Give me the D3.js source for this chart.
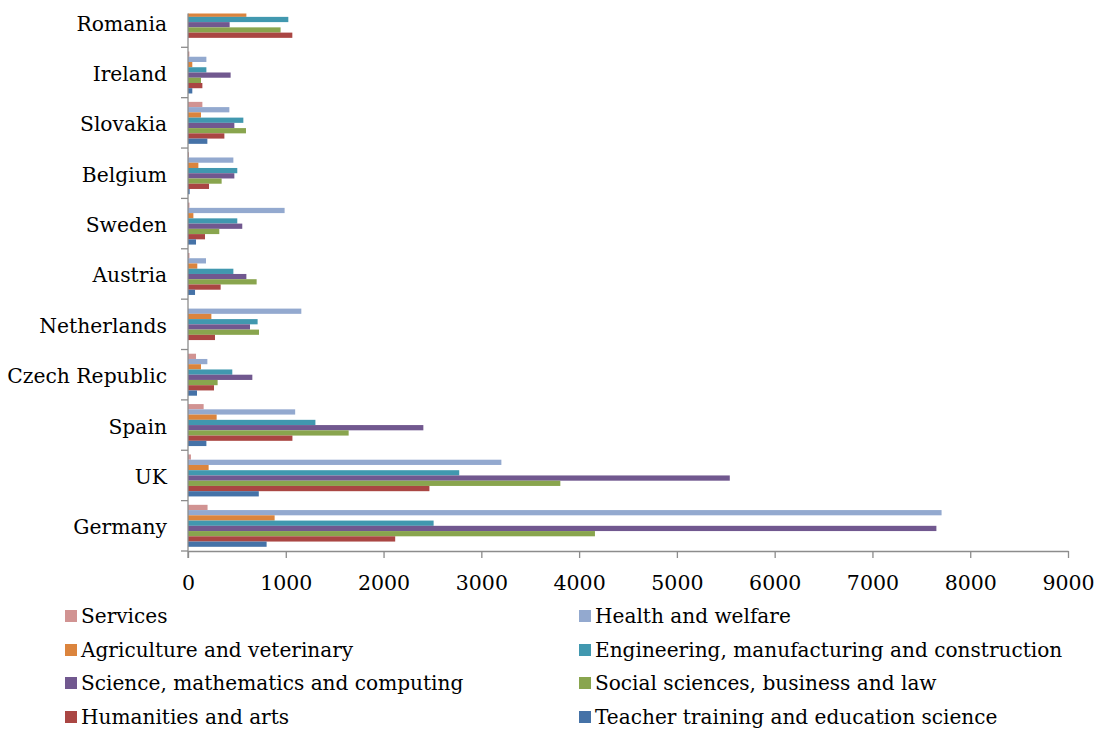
<!DOCTYPE html>
<html><head><meta charset="utf-8">
<script src="https://cdn.jsdelivr.net/npm/d3@7"></script>
<style>
html,body{margin:0;padding:0;background:#fff;}
svg{display:block;font-family:"DejaVu Serif",serif;}
</style></head>
<body>
<svg id="chart" width="1104" height="731"></svg>
<script>
// Categories, top to bottom
const countries = ["Romania","Ireland","Slovakia","Belgium","Sweden","Austria","Netherlands","Czech Republic","Spain","UK","Germany"];
// Series (values per country, same order as countries); null = not visible in source
const services    = [null, 14, 147, 10, 15, 15, 0, 82, 160, 30, 200];
const health      = [null, 188, 423, 464, 988, 184, 1159, 198, 1096, 3205, 7707];
const agriculture = [597, 44, 133, 106, 55, 95, 239, 133, 293, 211, 886];
const engineering = [1026, 188, 566, 504, 504, 464, 712, 453, 1303, 2774, 2512];
const science     = [426, 436, 474, 474, 555, 597, 634, 658, 2407, 5541, 7654];
const social      = [947, 133, 593, 344, 320, 702, 726, 303, 1643, 3808, 4162];
const humanities  = [1067, 147, 372, 215, 174, 334, 276, 266, 1068, 2469, 2119];
const teacher     = [0, 44, 198, 17, 82, 72, 0, 92, 188, 724, 804];
const seriesNames = ["Services","Health and welfare","Agriculture and veterinary","Engineering, manufacturing and construction","Science, mathematics and computing","Social sciences, business and law","Humanities and arts","Teacher training and education science"];
const xTicks = [0,1000,2000,3000,4000,5000,6000,7000,8000,9000];

const seriesValues = [services, health, agriculture, engineering, science, social, humanities, teacher];
const colors = ["#D19392","#93A9CF","#DB843D","#4198AF","#71588F","#89A54E","#AA4643","#4572A7"];

const svg = d3.select("#chart");
const axisColor = "#8c8c8c";
const plotTop = 13.5, plotBottom = 551, plotLeft = 188, plotRight = 1068;
const bandH = 50.37;

const x = d3.scaleLinear().domain([0, 9000]).range([plotLeft, plotRight]);
const y = d3.scaleBand().domain(countries)
  .range([plotBottom - bandH * countries.length, plotBottom]).padding(0);
const yInner = d3.scaleBand().domain(d3.range(seriesNames.length))
  .range([0, y.bandwidth()]).paddingInner(0).paddingOuter(0.8);

svg.append("defs").append("clipPath").attr("id","plotclip")
  .append("rect").attr("x", plotLeft).attr("y", plotTop)
  .attr("width", plotRight - plotLeft + 5).attr("height", plotBottom - plotTop);

const bars = svg.append("g").attr("clip-path","url(#plotclip)");
countries.forEach((c, ci) => {
  seriesValues.forEach((vals, si) => {
    const v = vals[ci];
    if (v === null || v === undefined) return;
    bars.append("rect")
      .attr("x", x(0))
      .attr("y", y(c) + yInner(si))
      .attr("width", Math.max(0, x(v) - x(0)))
      .attr("height", yInner.bandwidth())
      .attr("fill", colors[si]);
  });
});

// X axis
const xAxis = svg.append("g").attr("transform", `translate(0,${plotBottom})`)
  .call(d3.axisBottom(x).tickValues(xTicks).tickSize(7).tickSizeOuter(0).tickFormat(d3.format("d")));
xAxis.select(".domain").attr("stroke", axisColor).attr("stroke-width", 1.3);
xAxis.selectAll(".tick line").attr("stroke", axisColor).attr("stroke-width", 1.3);
xAxis.selectAll(".tick text").attr("fill","#000").attr("font-size", 20.5)
  .attr("font-family","DejaVu Serif, serif").attr("y", 38.5).attr("dy", 0);

// Y axis line and category boundary ticks
svg.append("line").attr("x1", plotLeft).attr("x2", plotLeft)
  .attr("y1", plotTop).attr("y2", plotBottom + 7)
  .attr("stroke", axisColor).attr("stroke-width", 1.3);
const bounds = countries.map(c => y(c) + y.bandwidth()).filter(v => v >= plotTop);
svg.selectAll(".ytick").data(bounds).enter().append("line")
  .attr("x1", plotLeft - 7).attr("x2", plotLeft)
  .attr("y1", d => d).attr("y2", d => d)
  .attr("stroke", axisColor).attr("stroke-width", 1.3);

svg.selectAll(".ylabel").data(countries).enter().append("text")
  .attr("x", 167).attr("y", d => y(d) + y.bandwidth() / 2)
  .attr("dy", "0.42em").attr("text-anchor","end")
  .attr("font-size", 20.3).attr("fill","#000").text(d => d);

// Legend
const legendCols = [65, 579];
const legendRows = [623, 657, 690, 724];
seriesNames.forEach((name, i) => {
  const cx = legendCols[i % 2], by = legendRows[Math.floor(i / 2)];
  svg.append("rect").attr("x", cx).attr("y", by - 13).attr("width", 12).attr("height", 12)
    .attr("fill", colors[i]);
  svg.append("text").attr("x", cx + 16).attr("y", by)
    .attr("font-size", 20.1).attr("fill","#000").text(name);
});
</script>
</body></html>
